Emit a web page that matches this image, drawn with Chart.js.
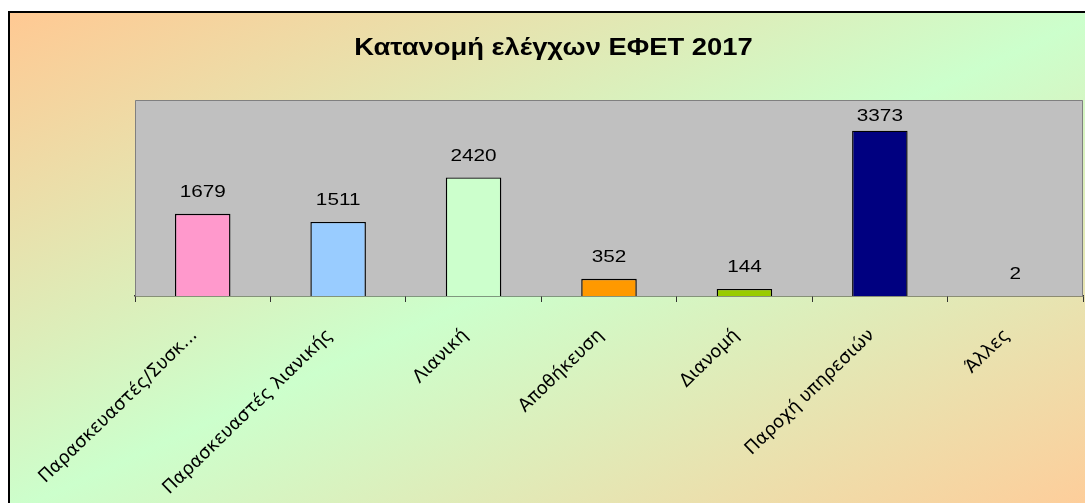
<!DOCTYPE html>
<html>
<head>
<meta charset="utf-8">
<script src="https://cdn.jsdelivr.net/npm/chart.js@4.4.0/dist/chart.umd.min.js"></script>
<style>
  html, body { margin: 0; padding: 0; background: #ffffff; overflow: hidden; }
  #frame {
    position: absolute; left: 8px; top: 11px; width: 1090px; height: 500px;
    border-top: 2px solid #000; border-left: 2px solid #000;
    background: linear-gradient(to bottom right, #ffc993 0%, #ccffcc 50%, #ffcc99 100%);
  }
  #wrap { position: absolute; left: 0; top: 0; width: 1085px; height: 503px; }
</style>
</head>
<body>
<div id="frame"></div>
<div id="wrap"><canvas id="c" width="1085" height="503"></canvas></div>
<script>
const titleText = 'Κατανομή ελέγχων ΕΦΕΤ 2017';
const categories = ['Παρασκευαστές/Συσκ...', 'Παρασκευαστές λιανικής', 'Λιανική', 'Αποθήκευση', 'Διανομή', 'Παροχή υπηρεσιών', 'Άλλες'];
const values = [1679, 1511, 2420, 352, 144, 3373, 2];
const barColors = ['#ff99cc', '#99ccff', '#ccffcc', '#ff9900', '#99cc00', '#000080', '#9999ff'];
const yMax = 4000;

const plotBg = {
  id: 'plotBg',
  beforeDatasetsDraw(chart) {
    const {ctx, chartArea: a} = chart;
    ctx.save();
    ctx.fillStyle = '#c0c0c0';
    ctx.fillRect(a.left, a.top, a.right - a.left, a.bottom - a.top);
    ctx.strokeStyle = '#808080';
    ctx.lineWidth = 1;
    ctx.beginPath();
    ctx.moveTo(a.left + 0.5, a.bottom);
    ctx.lineTo(a.left + 0.5, a.top + 0.5);
    ctx.lineTo(a.right - 0.5, a.top + 0.5);
    ctx.lineTo(a.right - 0.5, a.bottom);
    ctx.stroke();
    ctx.restore();
  }
};

const chartTitle = {
  id: 'chartTitle',
  afterDraw(chart) {
    const {ctx} = chart;
    ctx.save();
    ctx.font = 'bold 23px "Liberation Sans", Arial, sans-serif';
    ctx.fillStyle = '#000';
    ctx.textAlign = 'center';
    ctx.textBaseline = 'alphabetic';
    ctx.translate(553.5, 54.5);
    ctx.scale(1.19, 1);
    ctx.fillText(titleText, 0, 0);
    ctx.restore();
  }
};

const valueLabels = {
  id: 'valueLabels',
  afterDatasetsDraw(chart) {
    const {ctx, chartArea: a} = chart;
    const meta = chart.getDatasetMeta(0);
    ctx.save();
    ctx.font = '17px "Liberation Sans", Arial, sans-serif';
    ctx.fillStyle = '#000';
    ctx.textAlign = 'center';
    ctx.textBaseline = 'alphabetic';
    meta.data.forEach((el, i) => {
      const base = Math.max(el.y - 16.5, a.top + 8 + 12.5);
      ctx.save();
      ctx.translate(el.x, base);
      ctx.scale(1.22, 1);
      ctx.fillText(String(values[i]), 0, 0);
      ctx.restore();
    });
    ctx.restore();
  }
};

new Chart(document.getElementById('c'), {
  type: 'bar',
  data: {
    labels: categories,
    datasets: [{
      data: values,
      backgroundColor: barColors,
      borderColor: '#000000',
      borderWidth: 1.4,
      categoryPercentage: 1,
      barPercentage: 0.41
    }]
  },
  options: {
    responsive: false,
    animation: false,
    layout: { padding: { left: 24, right: 2, top: 100, bottom: 0 } },
    plugins: {
      legend: { display: false },
      tooltip: { enabled: false },
      title: { display: false }
    },
    scales: {
      y: {
        display: true,
        min: 0, max: yMax,
        ticks: { display: false },
        grid: { display: false },
        border: { display: false },
        afterFit(scale) { scale.width = 111; }
      },
      x: {
        grid: { display: true, drawOnChartArea: false, drawTicks: true, tickLength: 6, color: '#333', offset: true },
        border: { display: true, color: '#333', width: 1.5 },
        ticks: {
          color: '#000',
          minRotation: 44, maxRotation: 44,
          autoSkip: false,
          padding: 23,
          labelOffset: -8,
          font: { family: '"DejaVu Sans", sans-serif', size: 18 }
        },
        afterFit(scale) { scale.height = 207; scale.paddingLeft = 0; scale.paddingRight = 0; }
      }
    }
  },
  plugins: [plotBg, valueLabels, chartTitle]
});
</script>
</body>
</html>
